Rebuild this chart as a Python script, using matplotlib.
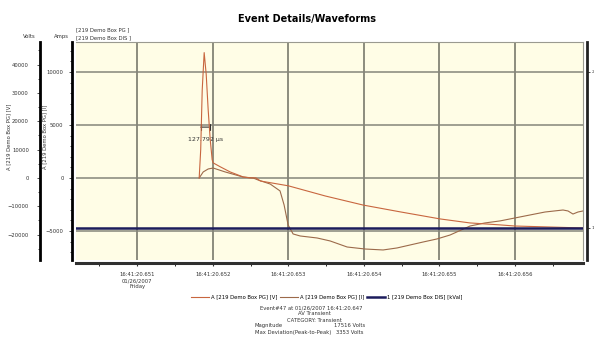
import matplotlib.pyplot as plt
from matplotlib.ticker import MultipleLocator

# time in ms after 16:41:20
v_time = [651.82, 651.84, 651.86, 651.886, 651.913, 651.939, 651.966, 651.992, 652.005,
          652.10, 652.23, 652.40, 652.49, 652.57, 652.63, 653.0, 653.49, 653.99, 654.48,
          655.01, 655.40, 655.80, 656.0, 656.40, 656.90]
v_volts = [0, 9900, 31000, 44250, 36500, 24000, 13500, 6400, 5300,
           3900, 2100, 350, 0, 0, -1100, -2800, -6400, -9600, -12000,
           -14500, -15900, -16600, -17000, -17300, -17700]

i_time = [651.82, 651.873, 651.939, 652.005, 652.164, 652.402, 652.534, 652.60, 652.76,
          652.89, 652.944, 652.997, 653.063, 653.156, 653.381, 653.553, 653.778, 654.016,
          654.254, 654.439, 654.611, 654.783, 654.968, 655.14, 655.405, 655.603, 655.802,
          656.0, 656.198, 656.397, 656.635, 656.701, 656.767, 656.833, 656.90]
i_amps = [0, 570, 850, 940, 570, 90, 0, -190, -570,
          -1220, -2550, -4430, -5280, -5470, -5660, -5940, -6510, -6700,
          -6790, -6600, -6320, -6040, -5750, -5380, -4530, -4240, -4050,
          -3770, -3490, -3210, -3020, -3110, -3400, -3210, -3110]

dis_time = [650.19, 656.90]
dis_val = [1, 1]

tick_times = [651, 652, 653, 654, 655, 656]
tick_labels = ["16:41:20.651\n01/26/2007\nFriday", "16:41:20.652", "16:41:20.653",
               "16:41:20.654", "16:41:20.655", "16:41:20.656"]

width_start = 651.84
width_end = 651.968
width_text = "127.792 µs"

v_color = "#c8663f"
i_color = "#9c6a4a"
dis_color = "#1c1c5c"
fs = 3.8

fig = plt.figure(figsize=(5.94, 3.43), dpi=100)
ax = fig.add_axes([0.128, 0.242, 0.8535, 0.6356])
ax.set_facecolor("#fffde6")

# amps axis (main)
ax.set_xlim(650.19, 656.9)
ax.set_ylim(-7736, 12830)
ax.plot(i_time, i_amps, color=i_color, lw=0.8)
ax.set_yticks([-5000, 0, 5000, 10000])
ax.yaxis.set_minor_locator(MultipleLocator(1000))
ax.set_xticks(tick_times)
ax.set_xticklabels(tick_labels)
ax.xaxis.set_minor_locator(MultipleLocator(0.5))
ax.tick_params(axis="y", labelsize=fs, length=2, width=0.6, pad=4, colors="#333333")
ax.tick_params(axis="y", which="minor", length=1.5, width=0.5)
ax.tick_params(axis="x", labelsize=fs, length=2.5, width=0.8, pad=4, colors="#333333")
ax.tick_params(axis="x", which="minor", length=2, width=0.6)
for lab in ax.get_xticklabels():
    lab.set_linespacing(1.4)
ax.grid(axis="x", color="#6e6e62", lw=1.1)
ax.grid(axis="y", color="#85857a", lw=1.1)
ylines = ax.yaxis.get_gridlines()
ylines[0].set_color("#b8b8b0")
ylines[0].set_linewidth(2.5)
ylines[1].set_color("#c8c8be")
ax.spines["left"].set_position(("outward", 3))
ax.spines["left"].set_linewidth(2)
ax.spines["bottom"].set_position(("outward", 2.5))
ax.spines["bottom"].set_linewidth(2.2)
ax.spines["bottom"].set_color("#303030")
ax.spines["top"].set_color("#9a9a90")
ax.spines["right"].set_color("#9a9a90")

# volts axis on far left
ax_v = ax.twinx()
ax_v.set_ylim(-29000, 48000)
ax_v.plot(v_time, v_volts, color=v_color, lw=0.8)
ax_v.yaxis.set_ticks_position("left")
ax_v.yaxis.set_label_position("left")
ax_v.spines["left"].set_visible(True)
ax_v.spines["left"].set_position(("outward", 26))
ax_v.spines["left"].set_linewidth(2)
ax_v.spines["right"].set_visible(False)
ax_v.spines["top"].set_visible(False)
ax_v.spines["bottom"].set_visible(False)
ax_v.set_yticks([-20000, -10000, 0, 10000, 20000, 30000, 40000])
ax_v.yaxis.set_minor_locator(MultipleLocator(5000))
ax_v.tick_params(axis="y", labelsize=fs, length=2, width=0.6, pad=6, colors="#333333")
ax_v.tick_params(axis="y", which="minor", length=1.5, width=0.5)
ax_v.tick_params(axis="x", which="both", bottom=False, labelbottom=False)

# discrete channel on the right
ax_d = ax.twinx()
ax_d.set_ylim(0.795, 2.19)
ax_d.plot(dis_time, dis_val, color=dis_color, lw=1.8)
ax_d.set_yticks([1, 2])
ax_d.tick_params(axis="y", labelsize=3.2, length=2, width=0.6, pad=1, colors="#333333")
ax_d.tick_params(axis="x", which="both", bottom=False, labelbottom=False)
ax_d.spines["right"].set_position(("outward", 3))
ax_d.spines["right"].set_linewidth(2)
ax_d.spines["right"].set_color("#222222")
for s in ["left", "top", "bottom"]:
    ax_d.spines[s].set_visible(False)

# pulse width marker
ax.annotate("", xy=(width_start, 4800), xytext=(width_end, 4800),
            arrowprops=dict(arrowstyle="|-|", color="#333333", lw=0.8,
                            mutation_scale=2, shrinkA=0, shrinkB=0))
ax.text((width_start + width_end) / 2, 3650, width_text, fontsize=4.5,
        ha="center", va="center", color="#333333")

# labels and headers
fig.text(0.517, 0.945, "Event Details/Waveforms", fontsize=7, fontweight="bold",
         ha="center", va="center")
fig.text(0.015, 0.6, "A [219 Demo Box PG] [V]", rotation=90, fontsize=fs,
         ha="center", va="center", color="#333333")
fig.text(0.076, 0.6, "A [219 Demo Box PG] [I]", rotation=90, fontsize=fs,
         ha="center", va="center", color="#333333")
fig.text(0.05, 0.893, "Volts", fontsize=fs, ha="center", va="center", color="#333333")
fig.text(0.104, 0.893, "Amps", fontsize=fs, ha="center", va="center", color="#333333")
fig.text(0.128, 0.912, "[219 Demo Box PG ]", fontsize=fs, ha="left", va="center",
         color="#333333")
fig.text(0.128, 0.89, "[219 Demo Box DIS ]", fontsize=fs, ha="left", va="center",
         color="#333333")

handles = [ax_v.lines[0], ax.lines[0], ax_d.lines[0]]
names = ["A [219 Demo Box PG] [V]", "A [219 Demo Box PG] [I]", "1 [219 Demo Box DIS] [kVal]"]
fig.legend(handles, names, loc="center", bbox_to_anchor=(0.55, 0.134), ncol=3,
           frameon=False, fontsize=fs, handlelength=3.5, columnspacing=0.4,
           handletextpad=0.4)

fig.text(0.524, 0.102, "Event#47 at 01/26/2007 16:41:20.647", fontsize=fs,
         ha="center", va="center", color="#333333")
fig.text(0.53, 0.085, "AV Transient", fontsize=fs, ha="center", va="center",
         color="#333333")
fig.text(0.53, 0.067, "CATEGORY: Transient", fontsize=fs, ha="center", va="center",
         color="#333333")
fig.text(0.429, 0.05, "Magnitude", fontsize=fs, ha="left", va="center", color="#333333")
fig.text(0.562, 0.05, "17516 Volts", fontsize=fs, ha="left", va="center", color="#333333")
fig.text(0.429, 0.03, "Max Deviation(Peak-to-Peak)", fontsize=fs, ha="left",
         va="center", color="#333333")
fig.text(0.566, 0.03, "3353 Volts", fontsize=fs, ha="left", va="center", color="#333333")

fig.savefig("out.png", dpi=100)
